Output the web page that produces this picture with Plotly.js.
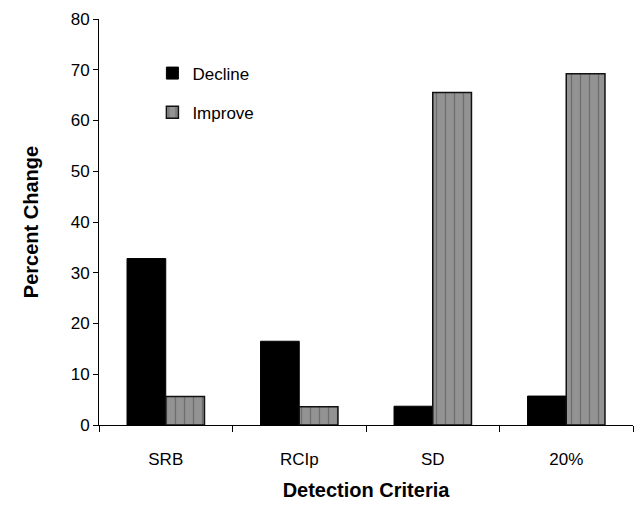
<!DOCTYPE html>
<html>
<head>
<meta charset="utf-8">
<script src="https://cdn.plot.ly/plotly-3.0.1.min.js"></script>
<style>html,body{margin:0;padding:0;background:#fff;}#chart{width:636px;height:508px;}</style>
</head>
<body>
<div id="chart"></div>
<script>
const categories = ["SRB", "RCIp", "SD", "20%"];
const declineValues = [32.8, 16.5, 3.7, 5.7];
const improveValues = [5.6, 3.6, 65.5, 69.2];
const yTicks = [0, 10, 20, 30, 40, 50, 60, 70, 80];

const font = "Liberation Sans, Arial, sans-serif";

const traces = [
  {
    type: "bar", name: "Decline", x: categories, y: declineValues,
    legendgroup: "a",
    marker: {color: "#000000", line: {color: "#000000", width: 1}}
  },
  {
    type: "bar", name: "Improve", x: categories, y: improveValues,
    legendgroup: "b",
    marker: {color: "#8f8f8f", line: {color: "#111111", width: 1.5},
      pattern: {shape: "|", fgcolor: "#6e6e6e", bgcolor: "#939393", size: 9, solidity: 0.15}}
  }
];

const layout = {
  width: 636, height: 508,
  margin: {l: 99, r: 3, t: 19, b: 83},
  paper_bgcolor: "#ffffff", plot_bgcolor: "#ffffff",
  font: {family: font, size: 17, color: "#000"},
  barmode: "group", bargap: 0.42, bargroupgap: 0,
  showlegend: true,
  legend: {x: 0.10, y: 0.91, xanchor: "left", yanchor: "top", bgcolor: "rgba(0,0,0,0)",
    font: {family: font, size: 17}, traceorder: "grouped", tracegroupgap: 14},
  xaxis: {
    type: "category", showline: true, linecolor: "#000", linewidth: 1,
    ticks: "outside", tickson: "boundaries", ticklen: 6, tickcolor: "#000",
    tickfont: {family: font, size: 17}, ticklabelstandoff: 19, showgrid: false, zeroline: false,
    title: {text: "<b>Detection Criteria</b>", font: {family: font, size: 20}, standoff: 14}
  },
  yaxis: {
    range: [0, 80], tickvals: yTicks, showline: true, linecolor: "#000", linewidth: 1,
    ticks: "outside", ticklen: 5, tickcolor: "#000", showgrid: false, zeroline: false,
    tickfont: {family: font, size: 17},
    title: {text: "<b>Percent Change</b>", font: {family: font, size: 20}, standoff: 26}
  }
};

Plotly.newPlot("chart", traces, layout, {displayModeBar: false, staticPlot: true});
</script>
</body>
</html>
